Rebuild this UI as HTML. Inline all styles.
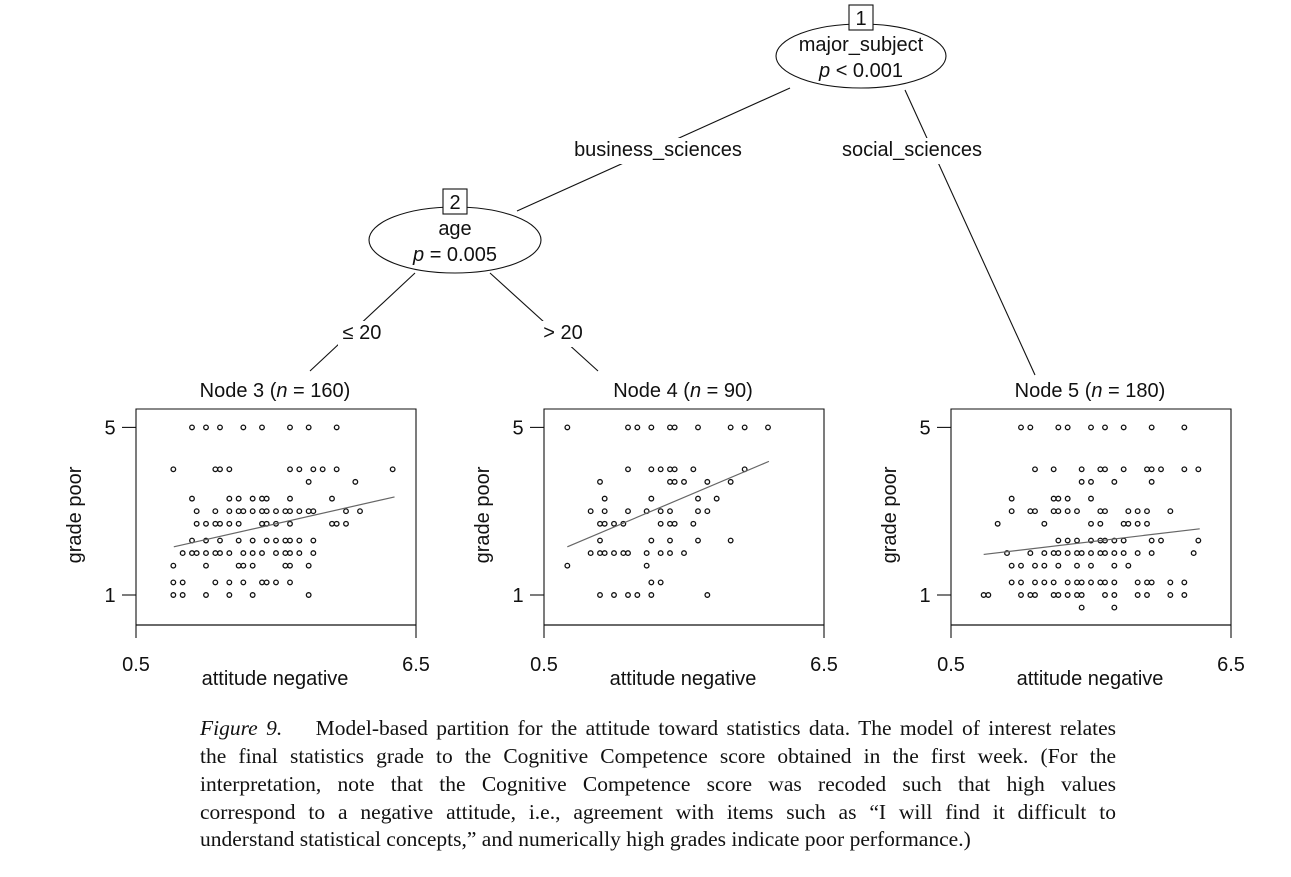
<!DOCTYPE html>
<html><head><meta charset="utf-8"><style>
body{margin:0;background:#fff;width:1291px;height:877px;overflow:hidden;position:relative}
svg{position:absolute;left:0;top:0}
.cap{position:absolute;left:200px;width:916px;font-family:"Liberation Serif",serif;font-size:21.5px;color:#111;text-align:justify;text-align-last:justify;white-space:nowrap}
.cap.last{text-align-last:left}
</style></head><body>
<svg id="chart" width="1291" height="700" font-family="Liberation Sans, sans-serif" fill="#111"></svg>
<div class="cap" style="top:716px"><i>Figure 9.</i>&nbsp;&nbsp;&nbsp; Model-based partition for the attitude toward statistics data. The model of interest relates</div>
<div class="cap" style="top:744px">the final statistics grade to the Cognitive Competence score obtained in the first week. (For the</div>
<div class="cap" style="top:772px">interpretation, note that the Cognitive Competence score was recoded such that high values</div>
<div class="cap" style="top:800px">correspond to a negative attitude, i.e., agreement with items such as “I will find it difficult to</div>
<div class="cap last" style="top:827px">understand statistical concepts,” and numerically high grades indicate poor performance.)</div>
<script>
// grade rows
const grades = [5,4,3.7,3.3,3,2.7,2.3,2,1.7,1.3,1,0.7];
// Node 3 attitude values per grade row
const node3X = [
 [1.7,2.0,2.3,2.8,3.2,3.8,4.2,4.8],
 [1.3,2.2,2.3,2.5,3.8,4.0,4.3,4.5,4.8,6.0],
 [4.2,5.2],
 [1.7,2.5,2.7,3.0,3.2,3.3,3.8,4.7],
 [1.8,2.2,2.5,2.7,2.8,3.0,3.2,3.3,3.5,3.7,3.8,4.0,4.2,4.3,5.0,5.3],
 [1.8,2.0,2.2,2.3,2.5,2.7,3.2,3.3,3.5,3.8,4.7,4.8,5.0],
 [1.7,2.0,2.3,2.7,3.0,3.3,3.5,3.7,3.8,4.0,4.3],
 [1.5,1.7,1.8,2.0,2.2,2.3,2.5,2.8,3.0,3.2,3.5,3.7,3.8,4.0,4.3],
 [1.3,2.0,2.7,2.8,3.0,3.7,3.8,4.2],
 [1.3,1.5,2.2,2.5,2.8,3.2,3.3,3.5,3.8],
 [1.3,1.5,2.0,2.5,3.0,4.2],
 []
];
const node4X = [
 [1.0,2.3,2.5,2.8,3.2,3.3,3.8,4.5,4.8,5.3],
 [2.3,2.8,3.0,3.2,3.3,3.7,4.8],
 [1.7,3.2,3.3,3.5,4.0,4.5],
 [1.8,2.8,3.8,4.2],
 [1.5,1.8,2.3,2.7,3.0,3.2,3.8,4.0],
 [1.7,1.8,2.0,2.2,3.0,3.2,3.3,3.7],
 [1.7,2.8,3.2,3.8,4.5],
 [1.5,1.7,1.8,2.0,2.2,2.3,2.7,3.0,3.2,3.5],
 [1.0,2.7],
 [2.8,3.0],
 [1.7,2.0,2.3,2.5,2.8,4.0],
 []
];
const node5X = [
 [2.0,2.2,2.8,3.0,3.5,3.8,4.2,4.8,5.5],
 [2.3,2.7,3.3,3.7,3.8,4.2,4.7,4.8,5.0,5.5,5.8],
 [3.3,3.5,4.0,4.8],
 [1.8,2.7,2.8,3.0,3.5],
 [1.8,2.2,2.3,2.7,2.8,3.0,3.2,3.7,3.8,4.3,4.5,4.7,5.2],
 [1.5,2.5,3.5,3.7,4.2,4.3,4.5,4.7],
 [2.8,3.0,3.2,3.5,3.7,3.8,4.0,4.2,4.8,5.0,5.8],
 [1.7,2.2,2.5,2.7,2.8,3.0,3.2,3.3,3.5,3.7,3.8,4.0,4.2,4.5,4.8,5.7],
 [1.8,2.0,2.3,2.5,2.8,3.2,3.5,4.0,4.3],
 [1.8,2.0,2.3,2.5,2.7,3.0,3.2,3.3,3.5,3.7,3.8,4.0,4.5,4.7,4.8,5.2,5.5],
 [1.2,1.3,2.0,2.2,2.3,2.7,2.8,3.0,3.2,3.3,3.8,4.0,4.5,4.7,5.2,5.5],
 [3.3,4.0]
];
// fitted lines: [intercept, slope], x range
const fitCoef = [[1.82,0.2516],[1.678,0.472],[1.81,0.132]];
const fitRange = [[1.31,6.04],[1.0,5.32],[1.2,5.83]];
const nodeTitles = ["Node 3","Node 4","Node 5"];
const nodeN = [160,90,180];
const xTicks = [0.5,6.5];
const yTicks = [5,1];

const svg = document.getElementById('chart');
const NS = 'http://www.w3.org/2000/svg';
const FS = 20;
function mk(tag, attrs, parent){
  const e = document.createElementNS(NS, tag);
  for (const k in attrs) e.setAttribute(k, attrs[k]);
  (parent||svg).appendChild(e);
  return e;
}
function edge(x1,y1,x2,y2,name){
  const l = mk('line',{x1,y1,x2,y2,stroke:'#111','stroke-width':1.1});
  
  
}
edge(790,88,517,211,'edge-business');
edge(905,90,1035,375,'edge-social');
edge(415,273,310,371,'edge-le20');
edge(490,273,598,371,'edge-gt20');
function lab(x,y,t,name){
  const w = t.length*10+8;
  const r = mk('rect',{x:x-w/2,y:y-18,width:w,height:26,fill:'#fff'});
  
  
  const tx = mk('text',{x,y,'text-anchor':'middle','font-size':FS});
  tx.textContent = t;
  
  
}
lab(658,156,'business_sciences','label-business-sciences');
lab(912,156,'social_sciences','label-social-sciences');
lab(362,339,'≤ 20','label-le-20');
lab(563,339,'> 20','label-gt-20');
function inner(cx,cy,rx,ry,id,l1,l2,name){
  const g = mk('g',{});
  
  
  mk('ellipse',{cx,cy,rx,ry,fill:'#fff',stroke:'#111','stroke-width':1.1},g);
  mk('rect',{x:cx-12,y:cy-51,width:24,height:25,fill:'#fff',stroke:'#111','stroke-width':1.1},g);
  const t0 = mk('text',{x:cx,y:cy-31,'text-anchor':'middle','font-size':FS},g); t0.textContent=id;
  const t1 = mk('text',{x:cx,y:cy-5,'text-anchor':'middle','font-size':FS},g); t1.textContent=l1;
  const t2 = mk('text',{x:cx,y:cy+21,'text-anchor':'middle','font-size':FS},g); t2.innerHTML=l2;
}
inner(861,56,85,32,'1','major_subject','<tspan font-style="italic">p</tspan> &lt; 0.001','node-1-major-subject');
inner(455,240,86,33,'2','age','<tspan font-style="italic">p</tspan> = 0.005','node-2-age');

const panelLeft = [136,544,951];
const PW = 280, pTop = 409, pBottom = 625;
const yPos = g => 595 - (g-1)*41.9;
const datasets = [node3X,node4X,node5X];
datasets.forEach((data,p)=>{
  const L = panelLeft[p];
  const xPos = v => L + (v-0.5)*PW/6;
  const g = mk('g',{});
  
  
  const t = mk('text',{x:L+139,y:397,'text-anchor':'middle','font-size':FS},g);
  t.innerHTML = nodeTitles[p]+' (<tspan font-style="italic">n</tspan> = '+nodeN[p]+')';
  
  mk('path',{d:`M${L},${pBottom}V${pTop}H${L+PW}V${pBottom}`,fill:'none',stroke:'#111','stroke-width':1.1},g);
  const ax = mk('line',{x1:L,y1:pBottom,x2:L+PW,y2:pBottom,stroke:'#111','stroke-width':1.2},g);
  
  xTicks.forEach(v=>{
    mk('line',{x1:xPos(v),y1:pBottom,x2:xPos(v),y2:638,stroke:'#111','stroke-width':1.1},g);
    const tt = mk('text',{x:xPos(v),y:671,'text-anchor':'middle','font-size':FS},g); tt.textContent=v.toFixed(1);
    
  });
  yTicks.forEach(v=>{
    mk('line',{x1:L-14,y1:yPos(v),x2:L,y2:yPos(v),stroke:'#111','stroke-width':1.1},g);
    const tt = mk('text',{x:L-26,y:yPos(v)+7,'text-anchor':'middle','font-size':FS},g); tt.textContent=v;
    
  });
  const xt = mk('text',{x:L+139,y:685,'text-anchor':'middle','font-size':FS},g); xt.textContent='attitude negative';
  
  const yt = mk('text',{x:0,y:0,'text-anchor':'middle','font-size':FS,transform:`translate(${L-55},515) rotate(-90)`},g); yt.textContent='grade poor';
  
  data.forEach((row,i)=>{
    row.forEach(v=>{
      const c = mk('circle',{cx:xPos(v),cy:yPos(grades[i]),r:2.3,fill:'none',stroke:'#111','stroke-width':1.3},g);
      
      
    });
  });
  const [a,b] = fitCoef[p], [x0,x1] = fitRange[p];
  const fl = mk('line',{x1:xPos(x0),y1:yPos(a+b*x0),x2:xPos(x1),y2:yPos(a+b*x1),stroke:'#666','stroke-width':1.2},g);
  
  
});
</script>
</body></html>
